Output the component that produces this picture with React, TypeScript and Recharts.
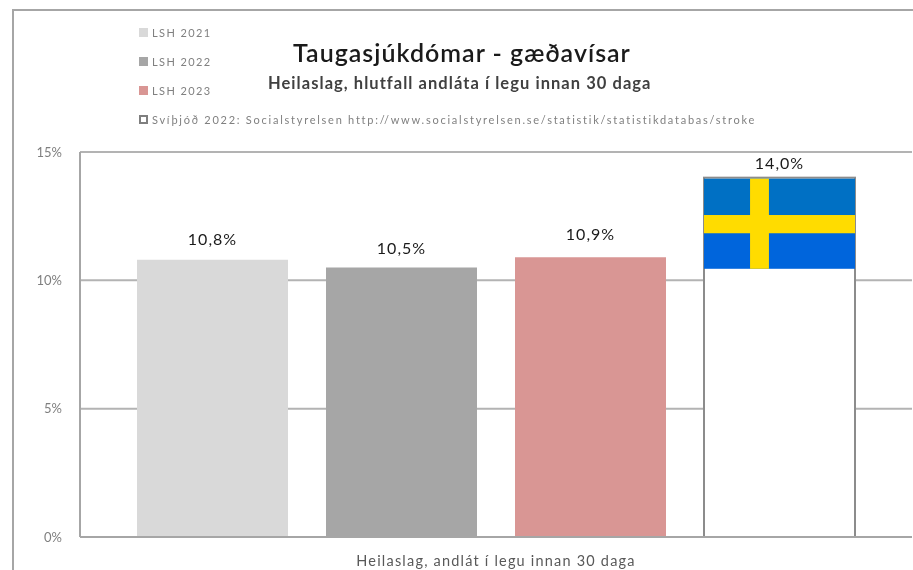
import { BarChart, Bar, XAxis, YAxis, CartesianGrid, LabelList } from 'recharts';

const CATEGORIES = ['Heilaslag, andlát í legu innan 30 daga'];
const LSH_2021 = [10.8];
const LSH_2022 = [10.5];
const LSH_2023 = [10.9];
const SWEDEN_2022 = [14.0];
const Y_TICKS = [0, 5, 10, 15];
const FLAG_BASE = 10.45;

const LEGEND_ITEMS = [
  { label: 'LSH 2021', color: '#d9d9d9' },
  { label: 'LSH 2022', color: '#a6a6a6' },
  { label: 'LSH 2023', color: '#d99694' },
  {
    label: 'Svíþjóð 2022: Socialstyrelsen http://www.socialstyrelsen.se/statistik/statistikdatabas/stroke',
    color: '#ffffff',
    outlined: true,
  },
];

const chartData = CATEGORIES.map((name, i) => ({
  name,
  lsh2021: LSH_2021[i],
  lsh2022: LSH_2022[i],
  lsh2023: LSH_2023[i],
  sweden: SWEDEN_2022[i],
}));

const FONT = 'Lato, "Noto Sans", sans-serif';
const LABEL_STYLE = { fontSize: 16, fill: '#1a1a1a', fontFamily: FONT, letterSpacing: 1 };
const formatPct = (v: number) => `${v.toFixed(1).replace('.', ',')}%`;

// white bar with the swedish flag on top of it
function FlagBar(props: any) {
  const { x, y, width, height, value } = props;
  const v = Array.isArray(value) ? value[1] : value;
  const flagH = (height * (v - FLAG_BASE)) / v;
  const crossX = x + width * 0.305;
  const crossW = width * 0.125;
  const crossY = y + flagH * 0.41;
  const crossH = flagH * 0.2;
  return (
    <g>
      <rect x={x} y={y} width={width} height={height} fill="#ffffff" stroke="#8c8c8c" strokeWidth={2} />
      <rect x={x} y={y + 1} width={width} height={crossY - y} fill="#0070c4" />
      <rect x={x} y={crossY} width={width} height={y + flagH - crossY} fill="#0065dc" />
      <rect x={x} y={crossY} width={width} height={crossH} fill="#ffdc00" />
      <rect x={crossX} y={y + 1} width={crossW} height={flagH - 1} fill="#ffdc00" />
    </g>
  );
}

function ChartLegend() {
  return (
    <div style={{ position: 'absolute', left: 139, top: 18, fontFamily: FONT, fontSize: 11, color: '#808080' }}>
      {LEGEND_ITEMS.map((item) => (
        <div
          key={item.label}
          style={{
            display: 'flex',
            alignItems: 'center',
            height: 29,
            whiteSpace: 'nowrap',
            letterSpacing: item.outlined ? 1.75 : 1.4,
          }}
        >
          <span
            style={{
              display: 'inline-block',
              width: 9,
              height: 9,
              marginRight: 4,
              boxSizing: 'border-box',
              background: item.color,
              border: item.outlined ? '2px solid #7f7f7f' : 'none',
            }}
          />
          {item.label}
        </div>
      ))}
    </div>
  );
}

export default function App() {
  return (
    <div
      style={{
        position: 'relative',
        width: 913,
        height: 570,
        overflow: 'hidden',
        background: '#fff',
        fontFamily: FONT,
        filter: 'blur(0.5px)',
      }}
    >
      <style>{'body { margin: 0; }'}</style>
      <div style={{ position: 'absolute', left: 12, top: 9, width: 1000, height: 700, border: '2px solid #a6a6a6' }} />
      <div style={{ position: 'absolute', left: 0, top: 0 }}>
        <BarChart
          width={913}
          height={570}
          data={chartData}
          margin={{ top: 152, right: 1, bottom: 0, left: 0 }}
          barSize={151}
          barGap={38}
        >
          <CartesianGrid vertical={false} stroke="#b3b3b3" strokeWidth={2} />
          <XAxis
            dataKey="name"
            height={33}
            axisLine={{ stroke: '#a6a6a6', strokeWidth: 2 }}
            tickLine={false}
            tickMargin={13}
            tick={{ fontSize: 14.5, fill: '#595959', fontFamily: FONT, letterSpacing: 1.2 }}
          />
          <YAxis
            width={80}
            domain={[0, 15]}
            ticks={Y_TICKS}
            tickFormatter={(v) => `${v}%`}
            axisLine={{ stroke: '#a6a6a6', strokeWidth: 2 }}
            tickLine={false}
            tickMargin={12}
            tick={{ fontSize: 13, fill: '#7f7f7f', fontFamily: FONT }}
          />
          <Bar dataKey="lsh2021" fill="#d9d9d9" isAnimationActive={false}>
            <LabelList dataKey="lsh2021" position="top" offset={15} formatter={formatPct} style={LABEL_STYLE} />
          </Bar>
          <Bar dataKey="lsh2022" fill="#a6a6a6" isAnimationActive={false}>
            <LabelList dataKey="lsh2022" position="top" offset={14} formatter={formatPct} style={LABEL_STYLE} />
          </Bar>
          <Bar dataKey="lsh2023" fill="#d99694" isAnimationActive={false}>
            <LabelList dataKey="lsh2023" position="top" offset={17} formatter={formatPct} style={LABEL_STYLE} />
          </Bar>
          <Bar dataKey="sweden" fill="#ffffff" shape={<FlagBar />} isAnimationActive={false}>
            <LabelList dataKey="sweden" position="top" offset={9} formatter={formatPct} style={LABEL_STYLE} />
          </Bar>
        </BarChart>
      </div>
      <ChartLegend />
      <div style={{ position: 'absolute', left: 293, top: 37, fontSize: 25, fontWeight: 600, color: '#1a1a1a', letterSpacing: 1, whiteSpace: 'nowrap' }}>
        Taugasjúkdómar - gæðavísar
      </div>
      <div style={{ position: 'absolute', left: 268, top: 73, fontSize: 16.5, fontWeight: 700, color: '#404040', letterSpacing: 1.05, whiteSpace: 'nowrap' }}>
        Heilaslag, hlutfall andláta í legu innan 30 daga
      </div>
    </div>
  );
}
